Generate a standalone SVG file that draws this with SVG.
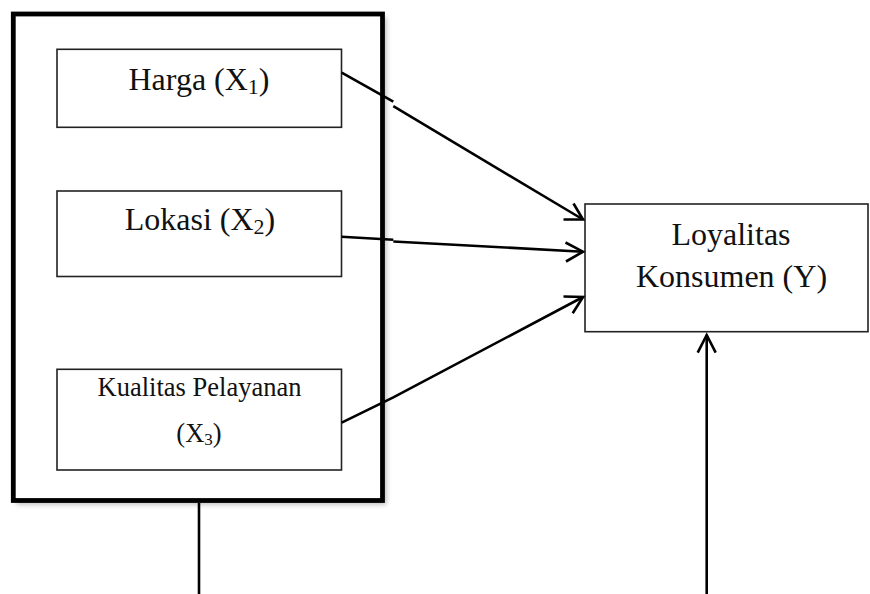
<svg xmlns="http://www.w3.org/2000/svg" width="870" height="594" viewBox="0 0 870 594">
<defs>
<filter id="sh" x="-10%" y="-10%" width="120%" height="120%">
<feGaussianBlur stdDeviation="2.5"/>
</filter>
<style>
.t{font-family:"Liberation Serif","Times New Roman",serif;fill:#111;text-anchor:middle}
.box{fill:#fff;stroke:#222;stroke-width:1.6}
.ln{stroke:#000;stroke-width:2.6;fill:none;stroke-linecap:butt;stroke-linejoin:miter}
</style>
</defs>
<rect width="870" height="594" fill="#fff"/>
<g id="group-X">
<rect x="16.5" y="17.5" width="370" height="487" fill="#bbb" filter="url(#sh)"/>
<rect x="13.3" y="14" width="369.2" height="486.5" fill="#fff" stroke="#000" stroke-width="4.8"/>
</g>
<g id="harga">
<rect class="box" x="57" y="49.3" width="284.5" height="78"/>
<text class="t" x="199" y="90" font-size="32">Harga (X<tspan font-size="22" dy="4">1</tspan><tspan dy="-4">)</tspan></text>
</g>
<g id="lokasi">
<rect class="box" x="57" y="191" width="284.5" height="85.5"/>
<text class="t" x="200" y="230" font-size="32">Lokasi (X<tspan font-size="22" dy="4">2</tspan><tspan dy="-4">)</tspan></text>
</g>
<g id="kualitas">
<rect class="box" x="57" y="369.3" width="284.5" height="100.7"/>
<text class="t" x="199.5" y="395.5" font-size="26.5">Kualitas Pelayanan</text>
<text class="t" x="199" y="441.5" font-size="26.5">(X<tspan font-size="17" dy="3">3</tspan><tspan dy="-3">)</tspan></text>
</g>
<g id="loyalitas">
<rect class="box" x="585" y="204" width="283" height="127.7"/>
<text class="t" x="731" y="245" font-size="32">Loyalitas</text>
<text class="t" x="731.5" y="286.7" font-size="32">Konsumen (Y)</text>
</g>
<g id="connectors">
<polyline class="ln" points="341.7,72.7 393.3,101.7"/>
<polyline class="ln" points="393.3,106.2 583,219.5"/>
<polyline class="ln" points="563.5,219.5 583,219.5 573.5,203.5"/>
<polyline class="ln" points="341.7,236.7 393.3,239.8"/>
<polyline class="ln" points="393.3,241.5 583,251.7"/>
<polyline class="ln" points="565.5,242.5 583,251.7 566,261.5"/>
<polyline class="ln" points="341.7,422.7 393.3,397.3 583,297"/>
<polyline class="ln" points="563.5,296.5 583,297 572.7,313.3"/>
<line class="ln" x1="199" y1="503" x2="199" y2="594"/>
<line class="ln" x1="706.7" y1="594" x2="706.7" y2="335"/>
<polyline class="ln" points="697.7,352.7 706.7,335 715.7,352.7"/>
</g>
</svg>
